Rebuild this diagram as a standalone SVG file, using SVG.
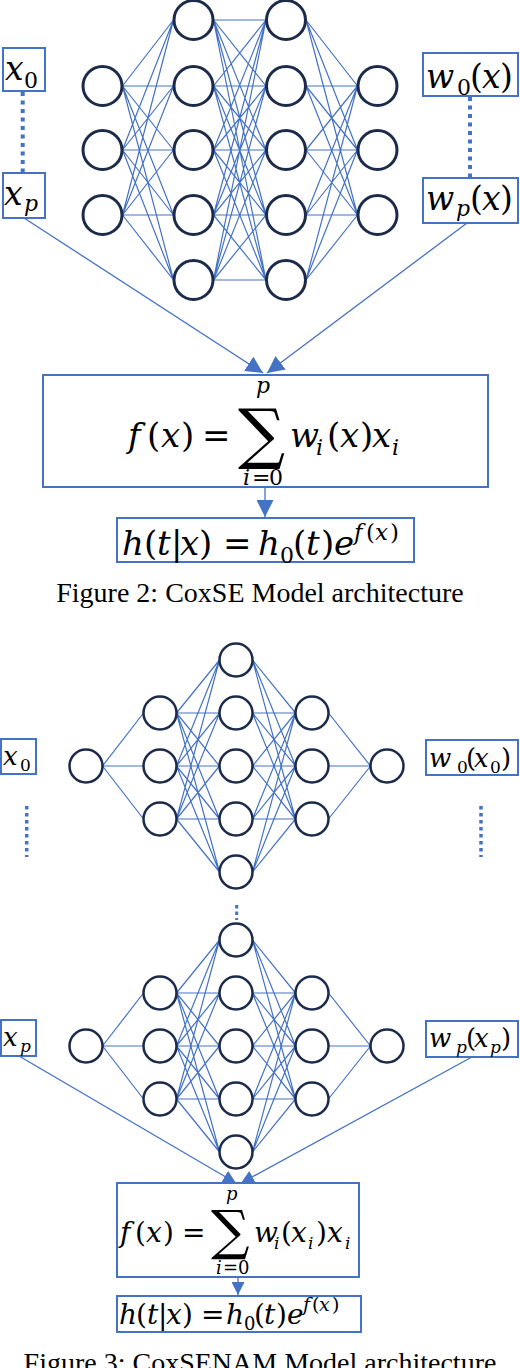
<svg xmlns="http://www.w3.org/2000/svg" width="520" height="1368" viewBox="0 0 520 1368">
<style>
.box{fill:#fff;stroke:#4472C4;stroke-width:2}
.n2{fill:#fff;stroke:#1c2b4a;stroke-width:3}
.n3{fill:#fff;stroke:#1c2b4a;stroke-width:2.5}
.w{fill:none;stroke:#4472C4;stroke-width:1.2}
.c{fill:none;stroke:#4472C4;stroke-width:1.3}
.dot{fill:none;stroke:#4472C4}
.m{font-family:"DejaVu Serif",serif;fill:#000}
.i{font-style:italic}
.cap{font-family:"Liberation Serif",serif;font-size:28px;fill:#000}
</style>
<defs>
<marker id="ah" viewBox="0 0 10 10" refX="10" refY="5" markerWidth="17" markerHeight="17" markerUnits="userSpaceOnUse" orient="auto"><path d="M0,0L10,5L0,10z" fill="#4472C4"/></marker>
<marker id="ah3" viewBox="0 0 10 10" refX="10" refY="5" markerWidth="13" markerHeight="13" markerUnits="userSpaceOnUse" orient="auto"><path d="M0,0L10,5L0,10z" fill="#4472C4"/></marker>
</defs>

<!-- ===== Figure 2 ===== -->
<g id="fig2-weights">
<path class="w" d="M122.5 86L173.5 20M122.5 86L173.5 86M122.5 86L173.5 150M122.5 86L173.5 215M122.5 86L173.5 280M122.5 150L173.5 20M122.5 150L173.5 86M122.5 150L173.5 150M122.5 150L173.5 215M122.5 150L173.5 280M122.5 215L173.5 20M122.5 215L173.5 86M122.5 215L173.5 150M122.5 215L173.5 215M122.5 215L173.5 280"/>
<path class="w" d="M213.5 20L266 20M213.5 20L266 86M213.5 20L266 150M213.5 20L266 215M213.5 20L266 280M213.5 86L266 20M213.5 86L266 86M213.5 86L266 150M213.5 86L266 215M213.5 86L266 280M213.5 150L266 20M213.5 150L266 86M213.5 150L266 150M213.5 150L266 215M213.5 150L266 280M213.5 215L266 20M213.5 215L266 86M213.5 215L266 150M213.5 215L266 215M213.5 215L266 280M213.5 280L266 20M213.5 280L266 86M213.5 280L266 150M213.5 280L266 215M213.5 280L266 280"/>
<path class="w" d="M306 20L357.5 86M306 20L357.5 150M306 20L357.5 215M306 86L357.5 86M306 86L357.5 150M306 86L357.5 215M306 150L357.5 86M306 150L357.5 150M306 150L357.5 215M306 215L357.5 86M306 215L357.5 150M306 215L357.5 215M306 280L357.5 86M306 280L357.5 150M306 280L357.5 215"/>
</g>
<g id="fig2-layer1"><circle class="n2" cx="102.5" cy="86" r="19.5"/><circle class="n2" cx="102.5" cy="150" r="19.5"/><circle class="n2" cx="102.5" cy="215" r="19.5"/></g>
<g id="fig2-layer2"><circle class="n2" cx="193.5" cy="20" r="19.5"/><circle class="n2" cx="193.5" cy="86" r="19.5"/><circle class="n2" cx="193.5" cy="150" r="19.5"/><circle class="n2" cx="193.5" cy="215" r="19.5"/><circle class="n2" cx="193.5" cy="280" r="19.5"/></g>
<g id="fig2-layer3"><circle class="n2" cx="286" cy="20" r="19.5"/><circle class="n2" cx="286" cy="86" r="19.5"/><circle class="n2" cx="286" cy="150" r="19.5"/><circle class="n2" cx="286" cy="215" r="19.5"/><circle class="n2" cx="286" cy="280" r="19.5"/></g>
<g id="fig2-layer4"><circle class="n2" cx="377.5" cy="86" r="19.5"/><circle class="n2" cx="377.5" cy="150" r="19.5"/><circle class="n2" cx="377.5" cy="215" r="19.5"/></g>

<g id="fig2-connectors">
<line class="dot" x1="22.7" y1="92" x2="22.7" y2="172" stroke-width="4" stroke-dasharray="4 4.5"/>
<line class="dot" x1="470" y1="97" x2="470" y2="177" stroke-width="4" stroke-dasharray="4 4.5"/>
<line class="c" x1="24" y1="218" x2="263" y2="373" marker-end="url(#ah)"/>
<line class="c" x1="467" y1="223" x2="267" y2="373" marker-end="url(#ah)"/>
<line class="c" x1="265" y1="487" x2="265" y2="517" marker-end="url(#ah)"/>
</g>

<g id="fig2-x0"><rect class="box" x="3" y="48" width="42" height="43"/>
<text class="m" font-size="33"><tspan class="i" x="5" y="80">x</tspan><tspan x="24" y="88" font-size="22">0</tspan></text></g>
<g id="fig2-xp"><rect class="box" x="3" y="173" width="42" height="45"/>
<text class="m" font-size="33"><tspan class="i" x="4" y="205">x</tspan><tspan class="i" x="24" y="211" font-size="22">p</tspan></text></g>
<g id="fig2-w0"><rect class="box" x="423" y="53" width="95" height="43"/>
<text class="m" font-size="33"><tspan class="i" x="426" y="88">w</tspan><tspan x="457" y="95" font-size="22">0</tspan><tspan x="470" y="88">(</tspan><tspan class="i" x="482">x</tspan><tspan x="500">)</tspan></text></g>
<g id="fig2-wp"><rect class="box" x="423" y="178" width="95" height="45"/>
<text class="m" font-size="33"><tspan class="i" x="426" y="210">w</tspan><tspan class="i" x="456" y="216" font-size="22">p</tspan><tspan x="470" y="210">(</tspan><tspan class="i" x="482">x</tspan><tspan x="500">)</tspan></text></g>

<g id="fig2-f"><rect class="box" x="43" y="375" width="445" height="112"/>
<text class="m" font-size="34" y="447"><tspan class="i" x="128">f</tspan><tspan x="147">(</tspan><tspan class="i" x="161">x</tspan><tspan x="181">)</tspan><tspan x="202">=</tspan></text>
<text class="m" font-size="66" x="238" y="456">∑</text>
<text class="m i" font-size="22" x="256" y="393">p</text>
<text class="m" font-size="22" y="485"><tspan class="i" x="243">i</tspan><tspan x="252">=</tspan><tspan x="269">0</tspan></text>
<text class="m" font-size="34" y="447"><tspan class="i" x="290">w</tspan><tspan class="i" x="316" y="455" font-size="22">i</tspan><tspan x="327" y="447">(</tspan><tspan class="i" x="340">x</tspan><tspan x="360">)</tspan><tspan class="i" x="372">x</tspan><tspan class="i" x="392" y="455" font-size="22">i</tspan></text></g>

<g id="fig2-h"><rect class="box" x="117" y="518" width="297" height="44"/>
<text class="m" font-size="34" y="555"><tspan class="i" x="122">h</tspan><tspan x="144">(</tspan><tspan class="i" x="157">t</tspan><tspan x="171">|</tspan><tspan class="i" x="180">x</tspan><tspan x="199">)</tspan><tspan x="223">=</tspan><tspan class="i" x="258">h</tspan><tspan x="280" y="563" font-size="22">0</tspan><tspan x="293" y="555">(</tspan><tspan class="i" x="306">t</tspan><tspan x="321">)</tspan><tspan class="i" x="334">e</tspan><tspan class="i" x="354" y="540" font-size="23">f</tspan><tspan x="366" font-size="23">(</tspan><tspan class="i" x="375" font-size="23">x</tspan><tspan x="390" font-size="23">)</tspan></text></g>

<text class="cap" x="260" y="602" text-anchor="middle">Figure 2: CoxSE Model architecture</text>

<!-- ===== Figure 3 ===== -->
<g id="fig3a-weights">
<path class="w" d="M102.5 766L143.5 713M102.5 766L143.5 766M102.5 766L143.5 819"/>
<path class="w" d="M176.5 713L219.5 660M176.5 713L219.5 713M176.5 713L219.5 766M176.5 713L219.5 819M176.5 713L219.5 872M176.5 766L219.5 660M176.5 766L219.5 713M176.5 766L219.5 766M176.5 766L219.5 819M176.5 766L219.5 872M176.5 819L219.5 660M176.5 819L219.5 713M176.5 819L219.5 766M176.5 819L219.5 819M176.5 819L219.5 872"/>
<path class="w" d="M252.5 660L295.5 713M252.5 660L295.5 766M252.5 660L295.5 819M252.5 713L295.5 713M252.5 713L295.5 766M252.5 713L295.5 819M252.5 766L295.5 713M252.5 766L295.5 766M252.5 766L295.5 819M252.5 819L295.5 713M252.5 819L295.5 766M252.5 819L295.5 819M252.5 872L295.5 713M252.5 872L295.5 766M252.5 872L295.5 819"/>
<path class="w" d="M328.5 713L370.5 766M328.5 766L370.5 766M328.5 819L370.5 766"/>
</g>
<g id="fig3a-nodes">
<circle class="n3" cx="86" cy="766" r="16.5"/>
<circle class="n3" cx="160" cy="713" r="16.5"/><circle class="n3" cx="160" cy="766" r="16.5"/><circle class="n3" cx="160" cy="819" r="16.5"/>
<circle class="n3" cx="236" cy="660" r="16.5"/><circle class="n3" cx="236" cy="713" r="16.5"/><circle class="n3" cx="236" cy="766" r="16.5"/><circle class="n3" cx="236" cy="819" r="16.5"/><circle class="n3" cx="236" cy="872" r="16.5"/>
<circle class="n3" cx="312" cy="713" r="16.5"/><circle class="n3" cx="312" cy="766" r="16.5"/><circle class="n3" cx="312" cy="819" r="16.5"/>
<circle class="n3" cx="387" cy="766" r="16.5"/>
</g>

<g id="fig3b-weights">
<path class="w" d="M102.5 1046L143.5 993M102.5 1046L143.5 1046M102.5 1046L143.5 1099"/>
<path class="w" d="M176.5 993L219.5 940M176.5 993L219.5 993M176.5 993L219.5 1046M176.5 993L219.5 1099M176.5 993L219.5 1152M176.5 1046L219.5 940M176.5 1046L219.5 993M176.5 1046L219.5 1046M176.5 1046L219.5 1099M176.5 1046L219.5 1152M176.5 1099L219.5 940M176.5 1099L219.5 993M176.5 1099L219.5 1046M176.5 1099L219.5 1099M176.5 1099L219.5 1152"/>
<path class="w" d="M252.5 940L295.5 993M252.5 940L295.5 1046M252.5 940L295.5 1099M252.5 993L295.5 993M252.5 993L295.5 1046M252.5 993L295.5 1099M252.5 1046L295.5 993M252.5 1046L295.5 1046M252.5 1046L295.5 1099M252.5 1099L295.5 993M252.5 1099L295.5 1046M252.5 1099L295.5 1099M252.5 1152L295.5 993M252.5 1152L295.5 1046M252.5 1152L295.5 1099"/>
<path class="w" d="M328.5 993L370.5 1046M328.5 1046L370.5 1046M328.5 1099L370.5 1046"/>
</g>
<g id="fig3b-nodes">
<circle class="n3" cx="86" cy="1046" r="16.5"/>
<circle class="n3" cx="160" cy="993" r="16.5"/><circle class="n3" cx="160" cy="1046" r="16.5"/><circle class="n3" cx="160" cy="1099" r="16.5"/>
<circle class="n3" cx="236" cy="940" r="16.5"/><circle class="n3" cx="236" cy="993" r="16.5"/><circle class="n3" cx="236" cy="1046" r="16.5"/><circle class="n3" cx="236" cy="1099" r="16.5"/><circle class="n3" cx="236" cy="1152" r="16.5"/>
<circle class="n3" cx="312" cy="993" r="16.5"/><circle class="n3" cx="312" cy="1046" r="16.5"/><circle class="n3" cx="312" cy="1099" r="16.5"/>
<circle class="n3" cx="387" cy="1046" r="16.5"/>
</g>

<g id="fig3-connectors">
<line class="dot" x1="26.7" y1="806" x2="26.7" y2="857" stroke-width="3.5" stroke-dasharray="3.5 3.5"/>
<line class="dot" x1="481" y1="806" x2="481" y2="857" stroke-width="3.5" stroke-dasharray="3.5 3.5"/>
<line class="dot" x1="236.7" y1="905" x2="236.7" y2="920" stroke-width="3" stroke-dasharray="3.5 3"/>
<line class="c" x1="19" y1="1056" x2="236" y2="1183" marker-end="url(#ah3)"/>
<line class="c" x1="472" y1="1057" x2="241" y2="1183" marker-end="url(#ah3)"/>
<line class="c" x1="238" y1="1277" x2="238" y2="1295" marker-end="url(#ah3)"/>
</g>

<g id="fig3-x0"><rect class="box" x="1" y="739" width="35" height="35"/>
<text class="m" font-size="26"><tspan class="i" x="3" y="765">x</tspan><tspan x="20" y="771" font-size="17">0</tspan></text></g>
<g id="fig3-w0"><rect class="box" x="426" y="740" width="92" height="35"/>
<text class="m" font-size="26"><tspan class="i" x="429" y="767">w</tspan><tspan x="457" y="773" font-size="17">0</tspan><tspan x="466" y="767">(</tspan><tspan class="i" x="474">x</tspan><tspan x="490" y="773" font-size="17">0</tspan><tspan x="501" y="767">)</tspan></text></g>
<g id="fig3-xp"><rect class="box" x="1" y="1020" width="35" height="36"/>
<text class="m" font-size="26"><tspan class="i" x="3" y="1046">x</tspan><tspan class="i" x="20" y="1052" font-size="17">p</tspan></text></g>
<g id="fig3-wp"><rect class="box" x="426" y="1021" width="92" height="36"/>
<text class="m" font-size="26"><tspan class="i" x="429" y="1047">w</tspan><tspan class="i" x="456" y="1053" font-size="17">p</tspan><tspan x="466" y="1047">(</tspan><tspan class="i" x="474">x</tspan><tspan class="i" x="490" y="1053" font-size="17">p</tspan><tspan x="501" y="1047">)</tspan></text></g>

<g id="fig3-f"><rect class="box" x="117" y="1183" width="242" height="94"/>
<text class="m" font-size="28" y="1242"><tspan class="i" x="120">f</tspan><tspan x="135">(</tspan><tspan class="i" x="146">x</tspan><tspan x="163">)</tspan><tspan x="182">=</tspan></text>
<text class="m" font-size="54" x="211" y="1249">∑</text>
<text class="m i" font-size="18" x="226" y="1200">p</text>
<text class="m" font-size="18" y="1274"><tspan class="i" x="216">i</tspan><tspan x="223">=</tspan><tspan x="238">0</tspan></text>
<text class="m" font-size="28" y="1242"><tspan class="i" x="254">w</tspan><tspan class="i" x="274" y="1249" font-size="17">i</tspan><tspan x="281" y="1242">(</tspan><tspan class="i" x="291">x</tspan><tspan class="i" x="308" y="1249" font-size="17">i</tspan><tspan x="316" y="1242">)</tspan><tspan class="i" x="327">x</tspan><tspan class="i" x="345" y="1249" font-size="17">i</tspan></text></g>

<g id="fig3-h"><rect class="box" x="117" y="1296" width="244" height="36"/>
<text class="m" font-size="28" y="1324"><tspan class="i" x="119">h</tspan><tspan x="136">(</tspan><tspan class="i" x="147">t</tspan><tspan x="158">|</tspan><tspan class="i" x="166">x</tspan><tspan x="182">)</tspan><tspan x="201">=</tspan><tspan class="i" x="226">h</tspan><tspan x="244" y="1330" font-size="18">0</tspan><tspan x="254" y="1324">(</tspan><tspan class="i" x="264">t</tspan><tspan x="276">)</tspan><tspan class="i" x="287">e</tspan><tspan class="i" x="303" y="1311" font-size="19">f</tspan><tspan x="312" font-size="19">(</tspan><tspan class="i" x="319" font-size="19">x</tspan><tspan x="332" font-size="19">)</tspan></text></g>

<text class="cap" x="260" y="1372" text-anchor="middle">Figure 3: CoxSENAM Model architecture</text>
</svg>
